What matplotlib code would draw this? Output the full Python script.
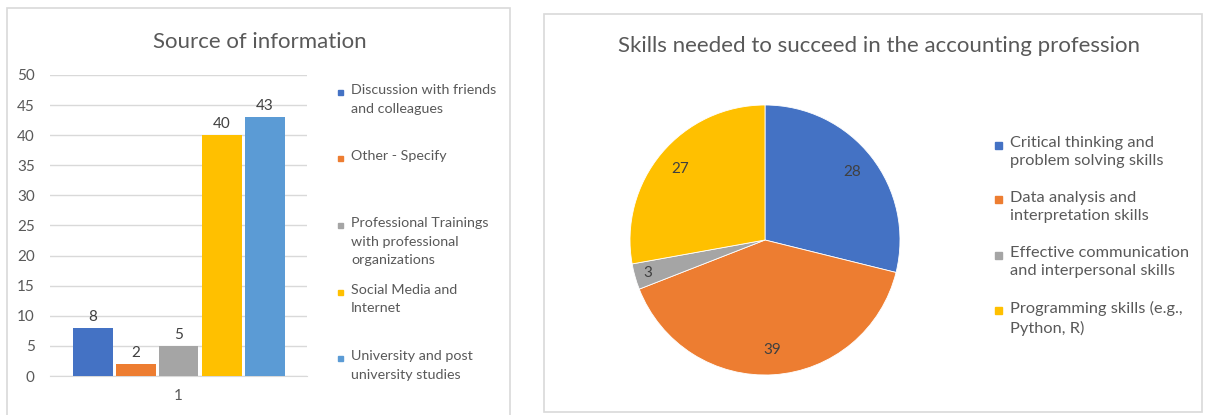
import matplotlib
matplotlib.use("Agg")
import numpy as np
from matplotlib import pyplot as plt
from matplotlib.patches import Rectangle

plt.rcParams["font.family"] = ["Lato", "DejaVu Sans"]

# Left chart: source of information
source_labels = ["Discussion with friends\nand colleagues",
                 "Other - Specify",
                 "Professional Trainings\nwith professional\norganizations",
                 "Social Media and\nInternet",
                 "University and post\nuniversity studies"]
source_values = [8, 2, 5, 40, 43]
source_colors = ["#4472C4", "#ED7D31", "#A5A5A5", "#FFC000", "#5B9BD5"]

# Right chart: skills
skill_labels = ["Critical thinking and\nproblem solving skills",
                "Data analysis and\ninterpretation skills",
                "Effective communication\nand interpersonal skills",
                "Programming skills (e.g.,\nPython, R)"]
skill_values = [28, 39, 3, 27]
skill_colors = ["#4472C4", "#ED7D31", "#A5A5A5", "#FFC000"]

W, H = 1206, 415
TEXT = "#595959"
GRID = "#D9D9D9"

def fx(x):
  return x / W

def fy(y):
  return 1 - y / H

fig = plt.figure(figsize=(W / 100, H / 100), dpi=100)

# Panel borders
fig.add_artist(Rectangle((fx(7), fy(425)), fx(510) - fx(7), fy(8) - fy(425),
                         transform=fig.transFigure, fill=False,
                         edgecolor=GRID, linewidth=1.2))
fig.add_artist(Rectangle((fx(544), fy(412)), fx(1202) - fx(544), fy(14) - fy(412),
                         transform=fig.transFigure, fill=False,
                         edgecolor=GRID, linewidth=1.2))

# ---- Bar chart ----
ax = fig.add_axes([fx(50), fy(376), fx(307) - fx(50), fy(75) - fy(376)])
step = 43 / 257
width = 40 / 257
for i, (val, col) in enumerate(zip(source_values, source_colors)):
  bars = ax.bar(1 + (i - 2) * step, val, width=width, color=col, zorder=3)
  ax.bar_label(bars, padding=3, color="#404040", fontsize=11)
ax.set_xlim(0.5, 1.5)
ax.set_ylim(0, 50)
ax.set_yticks(range(0, 51, 5))
ax.set_xticks([1])
ax.set_xticklabels(["1"])
ax.grid(axis="y", color=GRID, linewidth=1, zorder=0)
for side in ["top", "right", "left"]:
  ax.spines[side].set_visible(False)
ax.spines["bottom"].set_color(GRID)
ax.tick_params(axis="both", length=0, colors=TEXT, labelsize=11)
ax.tick_params(axis="y", pad=11)
ax.tick_params(axis="x", pad=9)
fig.text(fx(260), fy(42), "Source of information", ha="center", va="center",
         fontsize=16, color=TEXT)

# Legend for bar chart
for i, (label, col) in enumerate(zip(source_labels, source_colors)):
  y = 92 + i * 66.5
  fig.add_artist(Rectangle((fx(338), fy(y + 3)), fx(5), fy(0) - fy(5),
                           transform=fig.transFigure, color=col))
  fig.text(fx(351), fy(y - 8), label, ha="left", va="top", fontsize=10.3,
           color=TEXT, linespacing=1.66)

# ---- Pie chart ----
r = 135
pax = fig.add_axes([fx(765 - r), fy(240 + r), fx(2 * r), fy(0) - fy(2 * r)])
total = sum(skill_values)
wedges, texts, autotexts = pax.pie(
    skill_values, colors=skill_colors, startangle=90, counterclock=False,
    autopct=lambda p: "%d" % round(p * total / 100), pctdistance=0.82,
    wedgeprops={"edgecolor": "white", "linewidth": 0.6},
    textprops={"color": "#404040", "fontsize": 11})
# the small slice label sits a little further out
w = wedges[2]
mid = np.deg2rad((w.theta1 + w.theta2) / 2)
autotexts[2].set_position((0.9 * np.cos(mid), 0.9 * np.sin(mid)))
pax.set_xlim(-1, 1)
pax.set_ylim(-1, 1)
pax.set_aspect("auto")
fig.text(fx(879), fy(46), "Skills needed to succeed in the accounting profession",
         ha="center", va="center", fontsize=16, color=TEXT)

for i, (label, col) in enumerate(zip(skill_labels, skill_colors)):
  y = 145 + i * 55
  fig.add_artist(Rectangle((fx(995), fy(y + 3.5)), fx(7), fy(0) - fy(7),
                           transform=fig.transFigure, color=col))
  fig.text(fx(1010), fy(y - 9), label, ha="left", va="top", fontsize=11.8,
           color=TEXT, linespacing=1.4)

fig.savefig("out.png", dpi=100)
